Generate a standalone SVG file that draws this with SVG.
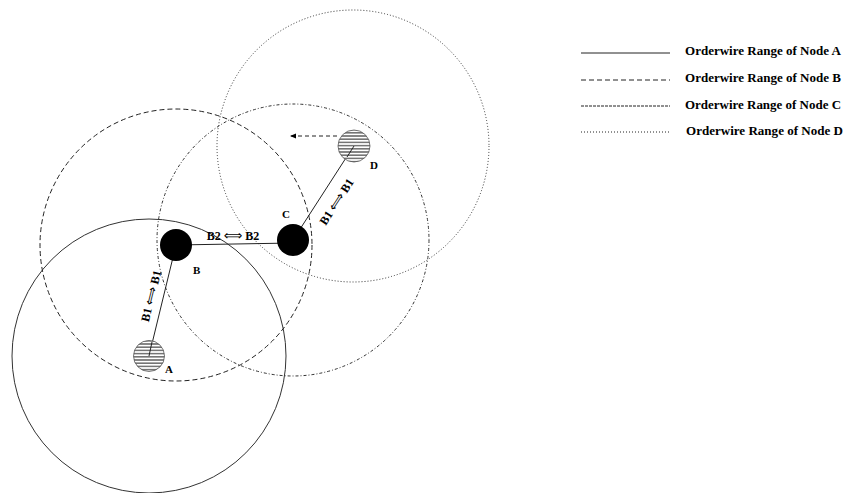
<svg xmlns="http://www.w3.org/2000/svg" width="847" height="493" viewBox="0 0 847 493">
<style>
.bg{fill:#fff}
.rng{fill:none;stroke:#222;stroke-width:1}
.ra{stroke:#333}
.rb{stroke-dasharray:5 3}
.rc{stroke-dasharray:3 2 1 2;stroke:#333}
.rd{stroke-dasharray:1 2;stroke:#333}
.lnk{stroke:#222;stroke-width:1;fill:none}
.lbl{font-family:"Liberation Serif","Times New Roman",serif;font-weight:bold;font-size:11px;fill:#000}
.arr{font-family:"Liberation Serif","Times New Roman",serif;font-weight:bold;font-size:12px;fill:#000}
.dbl{font-family:"DejaVu Sans",sans-serif;font-weight:normal;font-size:13px}
.leg{font-family:"Liberation Serif","Times New Roman",serif;font-weight:bold;font-size:12px;fill:#000}
.hatch{fill:url(#hp);stroke:#555;stroke-width:0.8}
.solid{fill:#000}
</style>
<defs>
<pattern id="hp" patternUnits="userSpaceOnUse" width="6" height="3.2">
<rect width="6" height="3.2" fill="#fff"/>
<line x1="0" y1="1.6" x2="6" y2="1.6" stroke="#222" stroke-width="1"/>
</pattern>
<marker id="ah" viewBox="0 0 10 10" refX="10" refY="5" markerWidth="6" markerHeight="6" orient="auto" markerUnits="userSpaceOnUse">
<path d="M0,1 L10,5 L0,9 z" fill="#000"/>
</marker>
</defs>
<rect class="bg" width="847" height="493"/>
<g id="ranges">
<circle id="rangeA" class="rng ra" cx="149" cy="356" r="137"/>
<circle id="rangeB" class="rng rb" cx="176" cy="245" r="136"/>
<circle id="rangeC" class="rng rc" cx="293" cy="240" r="136"/>
<circle id="rangeD" class="rng rd" cx="353" cy="146" r="136"/>
</g>
<g id="connectors">
<line class="lnk" x1="149" y1="356" x2="176" y2="245"/>
<line class="lnk" x1="176" y1="245" x2="293" y2="243"/>
<line class="lnk" x1="293" y1="240" x2="353" y2="147"/>
<line class="lnk" x1="337" y1="136" x2="290" y2="136" stroke-dasharray="4 3" marker-end="url(#ah)"/>
<text class="arr" x="233" y="240" text-anchor="middle">B2 <tspan class="dbl">⟺</tspan> B2</text>
<text class="arr" transform="translate(155,297) rotate(-76)" text-anchor="middle">B1 <tspan class="dbl">⟺</tspan> B1</text>
<text class="arr" transform="translate(340,204) rotate(-57)" text-anchor="middle">B1 <tspan class="dbl">⟺</tspan> B1</text>
</g>
<g id="nodeA">
<circle class="hatch" cx="149" cy="356" r="15.5"/>
<line class="lnk" x1="149" y1="356" x2="152" y2="342"/>
<text class="lbl" x="165" y="373">A</text>
</g>
<g id="nodeB">
<circle class="solid" cx="176" cy="245" r="16"/>
<text class="lbl" x="193" y="274">B</text>
</g>
<g id="nodeC">
<circle class="solid" cx="293" cy="240" r="16"/>
<text class="lbl" x="282" y="218">C</text>
</g>
<g id="nodeD">
<circle class="hatch" cx="354" cy="146" r="16"/>
<line class="lnk" x1="347" y1="157" x2="354" y2="146"/>
<text class="lbl" x="370" y="169">D</text>
</g>
<g id="legend">
<line x1="581" y1="53" x2="670" y2="53" stroke="#222" stroke-width="1"/>
<text class="leg" x="685" y="55" textLength="156" lengthAdjust="spacingAndGlyphs">Orderwire Range of Node A</text>
<line x1="581" y1="80" x2="670" y2="80" stroke="#222" stroke-width="1" stroke-dasharray="5 3"/>
<text class="leg" x="685" y="82" textLength="156" lengthAdjust="spacingAndGlyphs">Orderwire Range of Node B</text>
<line x1="581" y1="106" x2="670" y2="106" stroke="#222" stroke-width="1" stroke-dasharray="3 1"/>
<text class="leg" x="685" y="109" textLength="156" lengthAdjust="spacingAndGlyphs">Orderwire Range of Node C</text>
<line x1="581" y1="132" x2="670" y2="132" stroke="#222" stroke-width="1" stroke-dasharray="1 2"/>
<text class="leg" x="686" y="135" textLength="157" lengthAdjust="spacingAndGlyphs">Orderwire Range of Node D</text>
</g>
</svg>
